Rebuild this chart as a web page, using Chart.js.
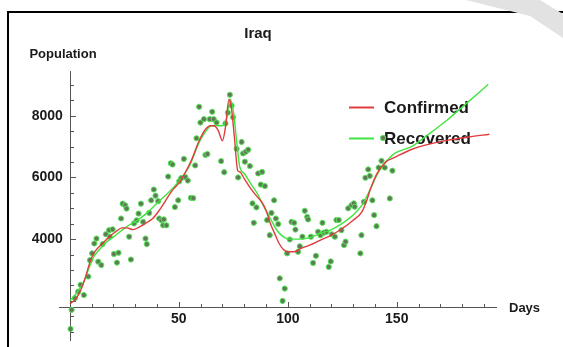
<!DOCTYPE html>
<html>
<head>
<meta charset="utf-8">
<title>Iraq</title>
<script src="https://cdn.jsdelivr.net/npm/chart.js@4.4.1/dist/chart.umd.min.js"></script>
<style>
  html, body { margin: 0; padding: 0; background: #fff; }
  canvas { display: block; }
</style>
</head>
<body>
<canvas id="iraqChart" width="563" height="347"></canvas>
<script>
// Daily observations (day, population)
const pointDays = [
    0.3, 0.8, 2.3, 3.8, 4.9, 6.4, 8.4, 9.2, 10.2, 11.2, 12.2, 13.0, 14.4, 15.0, 16.5, 18.0, 18.3, 19.6,
    20.2, 21.6, 22.3, 23.5, 24.2, 25.4, 26.0, 27.2, 28.0, 29.4, 30.6, 31.5, 32.6, 33.6, 34.7, 35.3,
    36.4, 37.3, 38.5, 39.3, 40.5, 41.0, 42.0, 42.8, 43.1, 44.3, 45.1, 46.3, 47.1, 48.2, 49.7, 50.2,
    51.1, 52.3, 53.0, 54.1, 55.5, 56.6, 57.5, 58.1, 59.3, 59.9, 61.5, 62.2, 63.1, 64.2, 65.3, 66.0,
    67.3, 69.4, 70.8, 71.4, 72.5, 73.4, 74.2, 74.9, 76.5, 77.2, 78.8, 79.5, 80.3, 80.7, 81.8, 82.6,
    83.8, 84.4, 85.6, 86.4, 87.6, 88.2, 89.5, 90.5, 91.7, 92.5, 93.7, 94.5, 95.6, 96.3, 97.6, 98.6,
    99.7, 100.9, 101.7, 102.9, 103.5, 104.7, 105.5, 106.7, 107.8, 108.9, 109.3, 110.6, 111.6, 112.9,
    113.9, 115.0, 115.9, 116.5, 117.7, 118.8, 119.7, 120.2, 121.6, 122.3, 123.4, 124.6, 125.8, 126.5,
    127.7, 129.2, 130.3, 130.7, 133.3, 133.8, 134.9, 135.6, 136.9, 137.6, 138.8, 139.6, 140.7, 141.7,
    143.0, 143.7, 144.5, 146.8, 148.0
];
const pointValues = [
    1090, 1710, 2090, 2300, 2520, 2190, 2790, 3320, 3540, 3860, 4020, 3270, 3160, 3840, 4160, 4290, 4080, 4320,
    3520, 3240, 3560, 4670, 5150, 5100, 4990, 4080, 3340, 4510, 4610, 4830, 5150, 4560, 4020, 3840,
    4850, 5260, 5610, 5410, 5230, 4670, 4610, 4450, 4640, 4450, 6030, 6460, 6420, 5040, 5260, 5880,
    5980, 6600, 6010, 5900, 5340, 5330, 6390, 7270, 8290, 7780, 7890, 6730, 6760, 7890, 8130, 7890,
    7780, 6530, 6170, 7750, 8100, 8680, 8330, 7950, 6930, 6000, 7150, 6780, 6510, 6830, 6900, 6370,
    5160, 4530, 5030, 6130, 5770, 6180, 5720, 4620, 4130, 4850, 5260, 4670, 4490, 2730, 2000, 2400,
    3540, 3990, 4560, 4530, 4310, 3590, 3770, 4080, 4920, 4720, 4640, 4080, 3230, 3460,
    4240, 4130, 4530, 4210, 4240, 3100, 3280, 4160, 4080, 4620, 4620, 4290, 3810, 3920,
    5000, 5100, 5160, 5050, 3540, 4130, 5210, 5990, 6260, 6050, 5260, 4780, 4420, 6320,
    6540, 7280, 6320, 5320, 6220
];

// Fitted curves
const confirmedDays = [0, 3, 5, 7, 9, 10.5, 12, 15, 18, 21, 24, 26, 29, 32, 35, 38, 41, 44, 47, 50, 53, 56, 59, 62,
    64.5, 66, 68, 70, 71.5, 73, 74, 75.5, 77, 78, 80, 83, 86, 88, 90, 92, 94, 96, 98, 100, 103, 106, 110,
    115, 120, 125, 130, 134, 136, 138, 141, 145, 149, 157, 165, 173, 183, 192.5];
const confirmedValues = [1900, 2090, 2355, 2730, 3215, 3480, 3645, 3860, 4075, 4240, 4365, 4365, 4310, 4400, 4525,
    4667, 4935, 5258, 5580, 5817, 6170, 6600, 7140, 7537, 7677, 7677, 7537, 7190, 7677, 8535, 8320, 7300,
    6225, 6180, 5965, 5640, 5370, 5210, 4940, 4510, 4180, 3860, 3665, 3590, 3590, 3700, 3805, 3970, 4130,
    4345, 4615, 4885, 5210, 5640, 6130, 6505, 6650, 6915, 7080, 7200, 7310, 7400];

const recoveredDays = [0, 3, 6, 9, 11, 14, 17, 20, 23, 27, 31, 35, 39, 43, 47, 51, 55, 59, 62, 65, 68, 70, 72,
    73.5, 75, 76.5, 78, 80, 83, 86, 89, 92, 95, 98, 101, 105, 110, 115, 120, 125, 130, 134, 138, 141, 145,
    149, 157, 165, 173, 182, 192];
const recoveredValues = [2010, 2250, 2570, 3110, 3430, 3700, 3915, 4075, 4240, 4450, 4613, 4828, 5097, 5365, 5634,
    5957, 6387, 7085, 7460, 7677, 7677, 7677, 7945, 8535, 8160, 7190, 6330, 6130, 5800, 5480, 5050, 4670,
    4290, 4075, 4000, 4000, 4050, 4185, 4310, 4510, 4780, 5100, 5640, 6100, 6505, 6780, 7010, 7420, 7855,
    8400, 9020];

// Axes and ticks
const xTickValues = [50, 100, 150];
const xTickLabels = ['50', '100', '150'];
const yTickValues = [4000, 6000, 8000];
const yTickLabels = ['4000', '6000', '8000'];
const xMinorStep = 10;
const yMinorStep = 500;
const axisCrossY = 1814;

const redColor = '#e03c3c';
const greenColor = '#3fe43f';
const font = '"Liberation Sans", Arial, sans-serif';

function toPoints(xs, ys) {
    return xs.map((x, i) => ({ x: x, y: ys[i] }));
}

// Frame, axes, labels and legend drawn under the series
const decorations = {
    id: 'decorations',
    beforeDatasetsDraw(chart) {
        const c = chart.ctx;
        const xs = chart.scales.x;
        const ys = chart.scales.y;
        const area = chart.chartArea;
        c.save();

        // outer frame
        c.strokeStyle = '#000';
        c.lineWidth = 2;
        c.beginPath();
        c.moveTo(8, 347);
        c.lineTo(8, 12);
        c.lineTo(563, 12);
        c.stroke();

        // light grey band across the top right corner
        c.fillStyle = '#e2e2e2';
        c.beginPath();
        c.moveTo(466, 0);
        c.lineTo(540, 0);
        c.lineTo(563, 14);
        c.lineTo(563, 38);
        c.lineTo(530, 16);
        c.closePath();
        c.fill();

        // title + axis names
        c.fillStyle = '#1a1a1a';
        c.textBaseline = 'middle';
        c.textAlign = 'center';
        c.font = 'bold 15px ' + font;
        c.fillText('Iraq', 258, 34);
        c.font = 'bold 13px ' + font;
        c.fillText('Population', 63, 54);
        c.textAlign = 'left';
        c.fillText('Days', 509, 308);

        // axis lines
        const x0 = xs.getPixelForValue(0);
        const yAxis = ys.getPixelForValue(axisCrossY);
        c.strokeStyle = '#555';
        c.lineWidth = 1;
        c.beginPath();
        c.moveTo(Math.round(x0) + 0.5, area.top);
        c.lineTo(Math.round(x0) + 0.5, area.bottom);
        c.moveTo(area.left, Math.round(yAxis) + 0.5);
        c.lineTo(area.right, Math.round(yAxis) + 0.5);
        c.stroke();

        // x ticks
        c.beginPath();
        for (let d = xMinorStep; d <= xs.max; d += xMinorStep) {
            const px = Math.round(xs.getPixelForValue(d)) + 0.5;
            const len = d % 50 === 0 ? 5 : 3;
            c.moveTo(px, Math.round(yAxis));
            c.lineTo(px, Math.round(yAxis) - len);
        }
        // y ticks
        for (let v = 1000; v <= ys.max; v += yMinorStep) {
            const py = Math.round(ys.getPixelForValue(v)) + 0.5;
            const len = v % 2000 === 0 ? 5 : 3;
            c.moveTo(Math.round(x0) + 1, py);
            c.lineTo(Math.round(x0) + 1 + len, py);
        }
        c.stroke();

        // tick labels
        c.font = 'bold 14px ' + font;
        c.textAlign = 'center';
        xTickValues.forEach((v, i) => {
            c.fillText(xTickLabels[i], xs.getPixelForValue(v), yAxis + 13);
        });
        c.textAlign = 'right';
        yTickValues.forEach((v, i) => {
            c.fillText(yTickLabels[i], x0 - 7, ys.getPixelForValue(v));
        });

        // legend
        c.lineWidth = 2;
        c.strokeStyle = redColor;
        c.beginPath();
        c.moveTo(349, 107.5);
        c.lineTo(374, 107.5);
        c.stroke();
        c.strokeStyle = greenColor;
        c.beginPath();
        c.moveTo(349, 138.5);
        c.lineTo(374, 138.5);
        c.stroke();
        c.fillStyle = '#1a1a1a';
        c.textAlign = 'left';
        c.font = 'bold 17px ' + font;
        c.fillText('Confirmed', 384, 108);
        c.fillText('Recovered', 384, 139);

        c.restore();
    }
};

function initIraqChart() {
    const ctx = document.getElementById('iraqChart');
    if (!ctx) return;

    new Chart(ctx, {
        type: 'scatter',
        data: {
            datasets: [{
                label: 'Confirmed',
                type: 'line',
                data: toPoints(confirmedDays, confirmedValues),
                borderColor: redColor,
                borderWidth: 1.4,
                pointRadius: 0,
                cubicInterpolationMode: 'monotone',
                fill: false,
                clip: false,
                order: 1
            }, {
                label: 'Recovered',
                type: 'line',
                data: toPoints(recoveredDays, recoveredValues),
                borderColor: greenColor,
                borderWidth: 1.4,
                pointRadius: 0,
                cubicInterpolationMode: 'monotone',
                fill: false,
                clip: false,
                order: 2
            }, {
                label: 'Daily',
                data: toPoints(pointDays, pointValues),
                backgroundColor: '#62785a',
                borderColor: '#55e655',
                borderWidth: 1,
                pointRadius: 2.6,
                clip: false,
                order: 3
            }]
        },
        options: {
            responsive: false,
            animation: false,
            devicePixelRatio: 1,
            layout: {
                padding: { left: 59, right: 66, top: 71, bottom: 6 }
            },
            plugins: {
                legend: { display: false },
                tooltip: { enabled: false }
            },
            scales: {
                x: { type: 'linear', min: -5, max: 196, display: false },
                y: { type: 'linear', min: 700, max: 9450, display: false }
            }
        },
        plugins: [decorations]
    });
}

document.addEventListener('DOMContentLoaded', function() {
    initIraqChart();
});
</script>
</body>
</html>
